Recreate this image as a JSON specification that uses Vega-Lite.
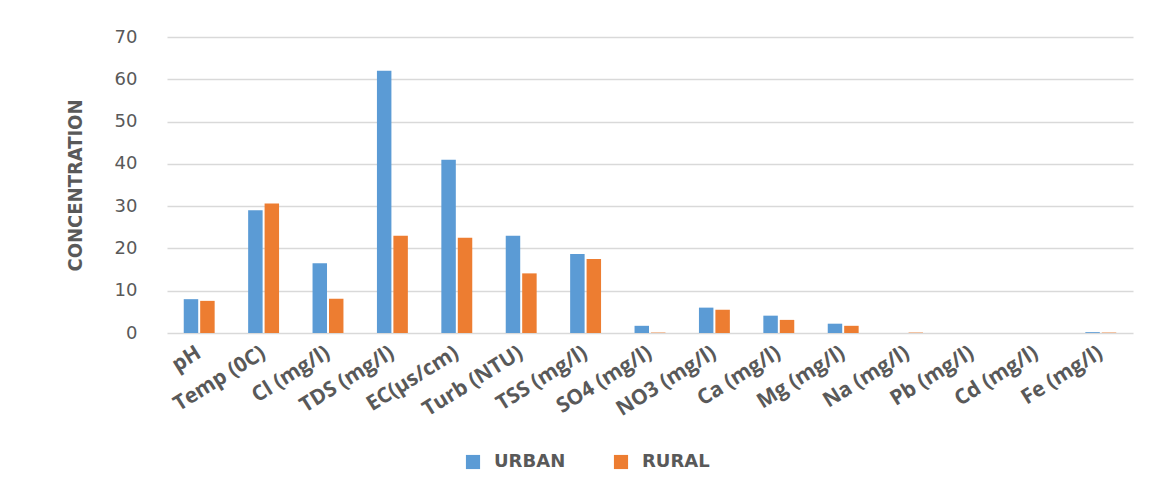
{
  "$schema": "https://vega.github.io/schema/vega-lite/v6.json",
  "width": 966,
  "height": 296,
  "autosize": {"type": "none"},
  "padding": {"left": 167, "top": 37, "right": 27, "bottom": 158},
  "background": "white",
  "config": {
    "view": {"stroke": null},
    "font": "Open Sans"
  },
  "data": {
    "values": [
      {"param": "pH", "area": "URBAN", "value": 8.0},
      {"param": "pH", "area": "RURAL", "value": 7.6},
      {"param": "Temp (0C)", "area": "URBAN", "value": 29.0},
      {"param": "Temp (0C)", "area": "RURAL", "value": 30.6},
      {"param": "Cl (mg/l)", "area": "URBAN", "value": 16.5},
      {"param": "Cl (mg/l)", "area": "RURAL", "value": 8.1},
      {"param": "TDS (mg/l)", "area": "URBAN", "value": 62.0},
      {"param": "TDS (mg/l)", "area": "RURAL", "value": 23.0},
      {"param": "EC(µs/cm)", "area": "URBAN", "value": 41.0},
      {"param": "EC(µs/cm)", "area": "RURAL", "value": 22.5},
      {"param": "Turb (NTU)", "area": "URBAN", "value": 23.0},
      {"param": "Turb (NTU)", "area": "RURAL", "value": 14.1},
      {"param": "TSS (mg/l)", "area": "URBAN", "value": 18.7},
      {"param": "TSS (mg/l)", "area": "RURAL", "value": 17.5},
      {"param": "SO4 (mg/l)", "area": "URBAN", "value": 1.7},
      {"param": "SO4 (mg/l)", "area": "RURAL", "value": 0.1},
      {"param": "NO3 (mg/l)", "area": "URBAN", "value": 6.0},
      {"param": "NO3 (mg/l)", "area": "RURAL", "value": 5.5},
      {"param": "Ca (mg/l)", "area": "URBAN", "value": 4.1},
      {"param": "Ca (mg/l)", "area": "RURAL", "value": 3.1},
      {"param": "Mg (mg/l)", "area": "URBAN", "value": 2.2},
      {"param": "Mg (mg/l)", "area": "RURAL", "value": 1.7},
      {"param": "Na (mg/l)", "area": "URBAN", "value": 0.0},
      {"param": "Na (mg/l)", "area": "RURAL", "value": 0.1},
      {"param": "Pb (mg/l)", "area": "URBAN", "value": 0.0},
      {"param": "Pb (mg/l)", "area": "RURAL", "value": 0.0},
      {"param": "Cd (mg/l)", "area": "URBAN", "value": 0.0},
      {"param": "Cd (mg/l)", "area": "RURAL", "value": 0.0},
      {"param": "Fe (mg/l)", "area": "URBAN", "value": 0.2},
      {"param": "Fe (mg/l)", "area": "RURAL", "value": 0.1}
    ]
  },
  "mark": {"type": "bar"},
  "encoding": {
    "x": {
      "field": "param",
      "type": "nominal",
      "sort": null,
      "scale": {"paddingInner": 0.52, "paddingOuter": 0.26},
      "axis": {
        "title": null,
        "labelAngle": -32,
        "labelAlign": "right",
        "labelBaseline": "middle",
        "labelPadding": 18,
        "labelFont": "Open Sans",
        "labelFontWeight": "bold",
        "labelFontSize": 21,
        "labelColor": "#595959",
        "labelOverlap": false,
        "domain": false,
        "ticks": false,
        "grid": false
      }
    },
    "xOffset": {
      "field": "area",
      "type": "nominal",
      "sort": ["URBAN", "RURAL"],
      "scale": {"paddingInner": 0.12}
    },
    "y": {
      "field": "value",
      "type": "quantitative",
      "scale": {"domain": [0, 70], "nice": false},
      "axis": {
        "values": [0, 10, 20, 30, 40, 50, 60, 70],
        "title": "CONCENTRATION",
        "titleFont": "DejaVu Sans Condensed",
        "titleFontWeight": "bold",
        "titleFontSize": 20,
        "titleColor": "#595959",
        "titleX": -92,
        "titleY": 148,
        "titleAngle": -90,
        "titleAlign": "center",
        "titleBaseline": "middle",
        "labelFont": "DejaVu Sans",
        "labelFontSize": 18,
        "labelColor": "#595959",
        "labelPadding": 30,
        "domain": false,
        "ticks": false,
        "grid": true,
        "gridColor": "#D9D9D9",
        "gridWidth": 1.3
      }
    },
    "color": {
      "field": "area",
      "type": "nominal",
      "sort": ["URBAN", "RURAL"],
      "scale": {"domain": ["URBAN", "RURAL"], "range": ["#5B9BD5", "#ED7D31"]},
      "legend": {
        "title": null,
        "orient": "none",
        "direction": "horizontal",
        "legendX": 297,
        "legendY": 416,
        "symbolType": "square",
        "symbolSize": 200,
        "symbolStrokeWidth": 0,
        "labelFont": "DejaVu Sans",
        "labelFontWeight": "bold",
        "labelFontSize": 18,
        "labelColor": "#595959",
        "labelOffset": 12,
        "columnPadding": 46
      }
    }
  }
}
